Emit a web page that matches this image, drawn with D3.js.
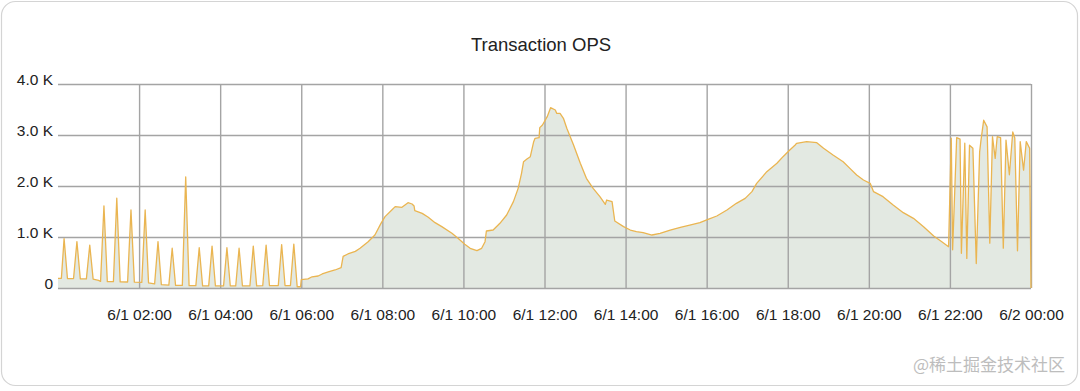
<!DOCTYPE html>
<html><head><meta charset="utf-8">
<script src="https://cdn.jsdelivr.net/npm/d3@7"></script>
<style>html,body{margin:0;padding:0;background:#fff;} svg{display:block;}</style>
</head><body><svg id="chart" width="1080" height="391"></svg>
<script>
// ---------- data ----------
const chartTitle = "Transaction OPS";
const watermark = "@稀土掘金技术社区";
const yTickValues = [0, 1000, 2000, 3000, 4000];
const yTickLabels = ["0", "1.0 K", "2.0 K", "3.0 K", "4.0 K"];
const xTickHours = [2, 4, 6, 8, 10, 12, 14, 16, 18, 20, 22, 24];

// [minutes since 6/1 00:00, ops]
const nightOps = [
  [0,190],[5,190],[9,970],[14,185],[23,185],[28,910],[33,180],[42,180],[47,840],[52,175],
  [60,150],[63,130],[68,1610],[73,125],[82,125],[87,1760],[92,120],[103,118],[108,1530],[113,115],
  [124,110],[129,1530],[134,100],[143,80],[148,910],[153,65],[164,55],[169,780],[174,50],
  [184,50],[189,2180],[194,45],[204,45],[209,790],[214,42],[223,42],[228,820],[233,40],
  [245,40],[250,790],[255,40],[263,40],[268,780],[273,40],[284,40],[289,820],[294,42],
  [303,45],[308,840],[313,45],[326,48],[331,850],[336,48],[344,48],[349,860],[354,25],[359,25]
];
const dayOps = [
  [360,165],[370,180],[376,220],[385,235],[391,275],[400,314],[410,353],[419,400],[422,620],
  [429,667],[440,719],[447,778],[459,908],[469,1039],[478,1268],[484,1399],[494,1529],[499,1595],
  [509,1582],[518,1673],[524,1647],[527,1608],[528,1516],[539,1464],[548,1386],[558,1281],
  [568,1203],[583,1072],[592,974],[602,860],[610,778],[620,732],[627,778],[632,908],[634,1118],
  [644,1137],[654,1268],[664,1431],[674,1693],[681,1954],[686,2248],[689,2477],[694,2529],
  [699,2575],[704,2869],[706,2935],[712,2948],[713,3144],[717,3196],[724,3359],[729,3536],
  [736,3490],[738,3425],[743,3425],[748,3327],[753,3131],[763,2804],[773,2445],[782,2150],
  [792,1954],[802,1791],[810,1640],[812,1725],[820,1693],[824,1314],[837,1203],[847,1137],
  [856,1104],[866,1084],[879,1039],[891,1072],[906,1137],[921,1190],[935,1235],[950,1281],
  [962,1346],[975,1412],[990,1529],[1004,1660],[1017,1758],[1027,1889],[1034,2052],[1049,2281],
  [1064,2445],[1073,2575],[1083,2706],[1091,2804],[1093,2837],[1108,2869],[1123,2850],
  [1133,2739],[1147,2608],[1162,2477],[1172,2346],[1182,2216],[1192,2118],[1202,2052],
  [1207,1889],[1221,1791],[1236,1627],[1251,1477],[1266,1366],[1281,1203],[1296,1020],
  [1308,908],[1318,810]
];
const lateOps = [
  [1322,2940],[1324,750],[1330,2950],[1335,2920],[1337,680],[1342,2840],[1345,580],[1349,2800],
  [1354,2740],[1359,480],[1364,2670],[1366,2900],[1370,3290],[1375,3160],[1379,880],[1383,2970],
  [1387,2540],[1390,2970],[1395,2950],[1399,780],[1403,2900],[1408,2220],[1413,3060],[1416,2940],
  [1420,730],[1424,2870],[1429,2310],[1433,2870],[1438,2740],[1440,0]
];

// ---------- chart ----------
const svg = d3.select("#chart");
const W = 1080, H = 391;
const plot = {left: 58, right: 1031, top: 84, bottom: 288};
const day0 = new Date(2016, 5, 1, 0, 0);
const day1 = d3.timeDay.offset(day0, 1);

const x = d3.scaleTime().domain([day0, day1]).range([plot.left, plot.right]);
const y = d3.scaleLinear().domain([0, 4000]).range([plot.bottom, plot.top]);

const series = nightOps.concat(dayOps, lateOps).map(([m, v]) => ({t: d3.timeMinute.offset(day0, m), v}));

// card
svg.append("rect").attr("x", 1.5).attr("y", 1.5).attr("width", W - 4).attr("height", H - 7)
  .attr("rx", 14).attr("fill", "#fff").attr("stroke", "#d4d4d4").attr("stroke-width", 1.2);

// title
svg.append("text").attr("x", 541).attr("y", 51).attr("text-anchor", "middle")
  .style("font-family", "'Liberation Sans', Arial, sans-serif").style("font-size", "18.5px")
  .attr("fill", "#222").text(chartTitle);

// area
svg.append("path").datum(series)
  .attr("fill", "#e3e9e2")
  .attr("d", d3.area().x(d => x(d.t)).y0(y(0)).y1(d => y(d.v)));

// y grid + labels
const yAxis = d3.axisLeft(y).tickValues(yTickValues)
  .tickSize(-(plot.right - plot.left)).tickPadding(5)
  .tickFormat((d, i) => yTickLabels[i]);
const gy = svg.append("g").attr("transform", `translate(${plot.left},0)`).call(yAxis);
gy.select(".domain").remove();
gy.selectAll("line").attr("stroke", "#a4a4a4").attr("stroke-width", 1.4);
gy.selectAll("text").attr("dy", "0.06em").attr("fill", "#222")
  .style("font-family", "'Liberation Sans', Arial, sans-serif").style("font-size", "15.5px");

// x grid + labels
const xAxis = d3.axisBottom(x).tickValues(xTickHours.map(h => d3.timeHour.offset(day0, h)))
  .tickSize(-(plot.bottom - plot.top)).tickPadding(21)
  .tickFormat(d3.timeFormat("%-m/%-d %H:%M"));
const gx = svg.append("g").attr("transform", `translate(0,${plot.bottom})`).call(xAxis);
gx.select(".domain").remove();
gx.selectAll("line").attr("stroke", "#a4a4a4").attr("stroke-width", 1.4);
gx.selectAll("text").attr("fill", "#222")
  .style("font-family", "'Liberation Sans', Arial, sans-serif").style("font-size", "15.5px");

// line
svg.append("path").datum(series)
  .attr("fill", "none").attr("stroke", "#eab551").attr("stroke-width", 1.3)
  .attr("stroke-linejoin", "round")
  .attr("d", d3.line().x(d => x(d.t)).y(d => y(d.v)));

// watermark
svg.append("text").attr("x", 1065).attr("y", 371).attr("text-anchor", "end")
  .style("font-family", "'Noto Sans CJK SC', sans-serif").style("font-size", "17px")
  .attr("fill", "#bdbdbd").text(watermark);
</script></body></html>
